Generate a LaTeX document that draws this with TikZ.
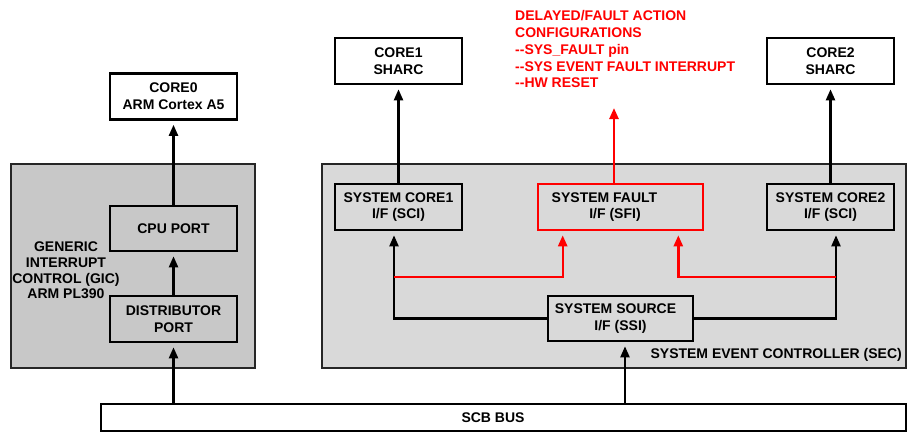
\documentclass[tikz,border=0pt]{standalone}
\usepackage{fontspec}
\setmainfont{Liberation Sans}
\usetikzlibrary{arrows.meta,calc}
\definecolor{gicgray}{HTML}{C8C8C8}
\definecolor{secgray}{HTML}{D9D9D9}
\definecolor{fred}{HTML}{FF0000}
\begin{document}
\begin{tikzpicture}[x=1pt,y=-1pt,
  font=\fontsize{14}{16.8}\selectfont\bfseries,
  box/.style={draw=black, line width=2.6pt, minimum width=127pt, minimum height=46pt, align=center, inner sep=0pt},
  container/.style={draw=black!85, line width=1.5pt},
  conn/.style={draw=black, line width=2.2pt, -{Triangle[length=11pt,width=9pt]}, shorten >=4pt},
  rconn/.style={draw=fred, line width=2.4pt, -{Triangle[length=11pt,width=9pt]}, shorten >=4pt},
  lbl/.style={inner sep=0pt, align=center}]
\useasboundingbox (0,0) rectangle (907,432);

% containers
\node[container, fill=gicgray, minimum width=244pt, minimum height=204pt, inner sep=0pt] (gic) at (133,266) {};
\node[container, fill=secgray, minimum width=584pt, minimum height=204pt, inner sep=0pt] (sec) at (614,266) {};
\node[box, line width=2.2pt, fill=white, minimum width=805pt, minimum height=27pt] (scb) at (503.5,417.5) {};
\node[lbl] (scblabel) at (493,417.5) {SCB BUS};

% GIC
\node[box, fill=white] (core0) at (173.5,96.5) {CORE0\\ARM Cortex A5};
\node[box, minimum height=45pt] (cpuport) at (173.5,228.5) {CPU PORT};
\node[box] (distport) at (173.5,319) {DISTRIBUTOR\\PORT};
\node[lbl, font=\fontsize{14}{15.7}\selectfont\bfseries] (giclabel) at (66,270.5) {GENERIC\\INTERRUPT\\CONTROL (GIC)\\ARM PL390};

% SEC
\node[box, fill=white] (core1) at (398.5,61) {CORE1\\SHARC};
\node[box, fill=white] (core2) at (830.5,61) {CORE2\\SHARC};
\node[box] (sci1) at (398.5,207) {SYSTEM CORE1\\I/F (SCI)};
\node[box, draw=fred, minimum width=165pt] (sfi) at (620.5,207) {SYSTEM FAULT\hspace*{32pt}\\I/F (SFI)\hspace*{11pt}};
\node[box] (sci2) at (830.5,207) {SYSTEM CORE2\\I/F (SCI)};
\node[box, minimum width=145pt, minimum height=45pt] (ssi) at (620.5,318.5) {SYSTEM SOURCE\hspace*{10pt}\\I/F (SSI)};
\node[lbl, anchor=east] (seclabel) at (902,355) {SYSTEM EVENT CONTROLLER (SEC)};

% fault action text
\node[lbl, align=left, anchor=north west, text=fred, font=\fontsize{14}{16.75}\selectfont\bfseries] (faulttext) at (515,10.5)
  {DELAYED/FAULT ACTION\\CONFIGURATIONS\\-{}-SYS\_FAULT pin\\-{}-SYS EVENT FAULT INTERRUPT\\-{}-HW RESET};

% helper coordinates
\coordinate (s1in) at ([xshift=-4.5pt]sci1.south);
\coordinate (s2in) at ([xshift=5.5pt]sci2.south);
\coordinate (sfil) at ([xshift=26pt]sfi.south west);
\coordinate (sfir) at ([xshift=-26pt]sfi.south east);
\coordinate (ssiin) at ([xshift=4.5pt]ssi.south);
\coordinate (sfiout) at ([xshift=-6.5pt]sfi.north);
\coordinate (faulttip) at (614,104);
\coordinate (rj1) at (s1in |- 0,277);
\coordinate (rj2) at (s2in |- 0,277);

% GIC connectors
\draw[conn] (cpuport.north) -- (core0.south);
\draw[conn] (distport.north) -- (cpuport.south);
\draw[conn] (distport.south |- scb.north) -- (distport.south);

% SEC connectors
\draw[conn] (sci1.north) -- (core1.south);
\draw[conn] (sci2.north) -- (core2.south);
\draw[conn] (ssiin |- scb.north) -- (ssiin);
\draw[conn] (ssi.west) -| (s1in);
\draw[conn] (ssi.east) -| (s2in);
\draw[rconn] (rj1) -| (sfil);
\draw[rconn] (rj2) -| (sfir);
\draw[rconn] (sfiout) -- (faulttip);
\end{tikzpicture}
\end{document}
